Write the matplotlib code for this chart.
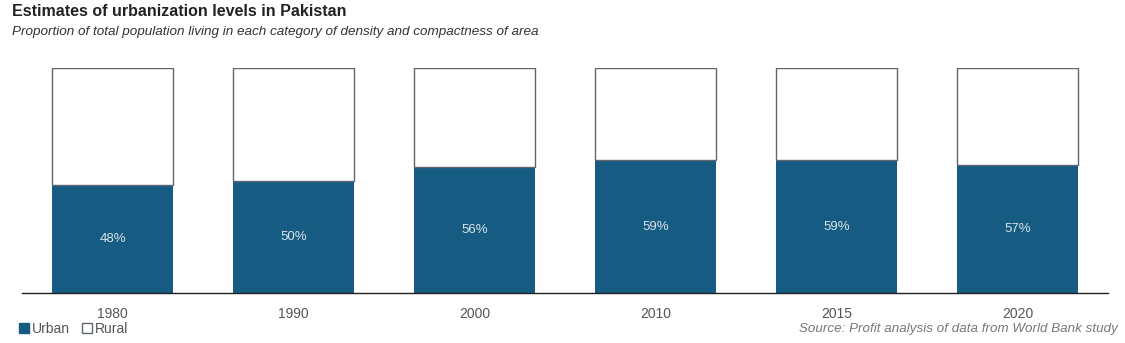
import matplotlib.pyplot as plt
from matplotlib.patches import Patch
import numpy as np

plt.rcParams["font.family"] = ["Liberation Sans", "DejaVu Sans"]

years = ["1980", "1990", "2000", "2010", "2015", "2020"]
urban = [48, 50, 56, 59, 59, 57]
rural = [100 - u for u in urban]

URBAN_COLOR = "#165b82"
EDGE_COLOR = "#5f6670"

fig = plt.figure(figsize=(11.25, 3.43), dpi=100)
ax = fig.add_axes([22 / 1125, 1 - 293 / 343, (1108 - 22) / 1125, (293 - 68) / 343])

x = np.arange(len(years))
w = 0.667
ax.bar(x, urban, width=w, color=URBAN_COLOR, edgecolor="none")
ax.bar(x, rural, width=w, bottom=urban, color="white", edgecolor=EDGE_COLOR, linewidth=1.0)

for xi, u in zip(x, urban):
    ax.text(xi, u / 2, f"{u}%", ha="center", va="center", color="#d8e2ea", fontsize=9.5)

ax.set_xlim(-0.5, len(years) - 0.5)
ax.set_ylim(0, 100)
ax.set_xticks(x)
ax.set_xticklabels(years, color="#555555", fontsize=10)
ax.tick_params(axis="x", length=0, pad=10)
ax.set_yticks([])
for side in ["left", "right", "top"]:
    ax.spines[side].set_visible(False)
ax.spines["bottom"].set_color("#222222")
ax.spines["bottom"].set_linewidth(1.0)

fig.text(12 / 1125, 1 - 12 / 343, "Estimates of urbanization levels in Pakistan",
         fontsize=11.5, fontweight="bold", color="#222222", va="center")
fig.text(12 / 1125, 1 - 32 / 343,
         "Proportion of total population living in each category of density and compactness of area",
         fontsize=9.7, style="italic", color="#333333", va="center")

handles = [Patch(facecolor=URBAN_COLOR, edgecolor=URBAN_COLOR, label="Urban"),
           Patch(facecolor="white", edgecolor=EDGE_COLOR, label="Rural")]
fig.legend(handles=handles, loc="center left", bbox_to_anchor=(12 / 1125, 1 - 329 / 343),
           ncol=2, frameon=False, fontsize=10, handlelength=0.7, handleheight=0.7,
           handletextpad=0.2, columnspacing=0.9, labelcolor="#555555", borderpad=0)

fig.text(1118 / 1125, 1 - 329 / 343, "Source: Profit analysis of data from World Bank study",
         fontsize=9.6, style="italic", color="#777777", ha="right", va="center")

fig.savefig("out.png", dpi=100, facecolor="white")
